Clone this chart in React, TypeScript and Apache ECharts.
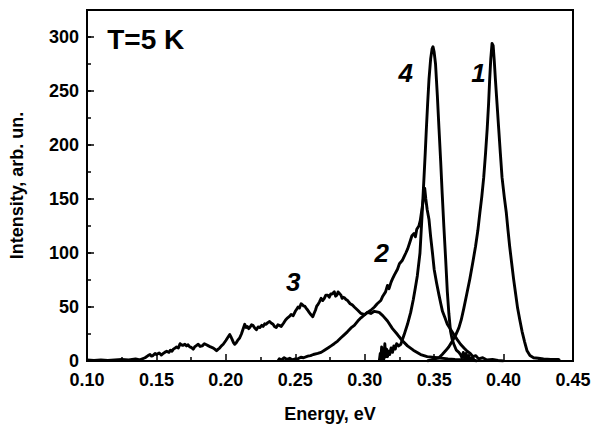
import React, { useEffect, useRef } from "react";
import * as echarts from "echarts";

// Energy (eV), intensity (arb. un.) pairs
const curve1: number[][] = [
  [0.345, 0], [0.348, 1], [0.3505, 2], [0.3534, 3], [0.3558, 6], [0.3582, 9.4], [0.3605, 13], [0.3631, 18.5],
  [0.3655, 24], [0.3678, 30.6], [0.3695, 38], [0.3714, 49], [0.3735, 62], [0.3757, 76], [0.3778, 91],
  [0.3798, 106], [0.3815, 121], [0.3829, 137], [0.3843, 152], [0.3857, 170], [0.387, 192], [0.3882, 215],
  [0.3892, 238], [0.39, 261], [0.3908, 280], [0.3917, 294], [0.3925, 292], [0.3933, 278], [0.3941, 261],
  [0.3953, 238], [0.3965, 215], [0.3977, 192], [0.3989, 170], [0.4005, 152], [0.402, 137], [0.4032, 121],
  [0.4044, 106], [0.4058, 91], [0.4072, 76], [0.4087, 62], [0.4101, 49], [0.4117, 38], [0.4133, 27.5],
  [0.4151, 18], [0.4169, 9.4], [0.419, 5], [0.4216, 3], [0.425, 2.5], [0.4288, 2], [0.434, 1.5],
  [0.4395, 1.5], [0.4405, 0.5],
];

const curve2: number[][] = [
  [0.2375, 0], [0.2385, 2], [0.24, 1], [0.242, 3], [0.244, 1.5], [0.246, 2.5], [0.248, 1], [0.25, 2],
  [0.2519, 2], [0.254, 3.5], [0.256, 3], [0.259, 4.5], [0.261, 5], [0.263, 6], [0.2662, 7], [0.2686, 8],
  [0.271, 10], [0.2735, 12], [0.2758, 14], [0.278, 16], [0.2805, 18.5], [0.2829, 21.5], [0.285, 24],
  [0.2875, 27], [0.2901, 30.6], [0.2925, 33], [0.295, 37], [0.2973, 40], [0.3, 43], [0.302, 45],
  [0.3044, 47], [0.307, 50], [0.309, 53], [0.3116, 56], [0.313, 60], [0.315, 64], [0.3164, 70],
  [0.3175, 67], [0.319, 73], [0.32, 76], [0.3215, 80], [0.3236, 85], [0.325, 90], [0.327, 93],
  [0.3296, 100], [0.331, 104], [0.3325, 110], [0.334, 116], [0.3355, 118], [0.3365, 115], [0.3375, 122],
  [0.339, 125], [0.34, 130], [0.3415, 143], [0.3425, 152], [0.3432, 160], [0.344, 150], [0.345, 140],
  [0.3463, 131], [0.3475, 115], [0.3488, 100], [0.35, 85], [0.3518, 72], [0.3535, 61], [0.3548, 53],
  [0.356, 46], [0.3578, 40], [0.3595, 34], [0.362, 29], [0.3642, 24.5], [0.3665, 20], [0.369, 15.5],
  [0.3715, 12], [0.3738, 9], [0.376, 7], [0.378, 4], [0.38, 5], [0.382, 2], [0.385, 3], [0.388, 1],
  [0.392, 1.5], [0.396, 0.5], [0.4, 0],
];

const curve3: number[][] = [
  [0.1, 1], [0.105, 0.5], [0.11, 1], [0.115, 0.5], [0.12, 1], [0.125, 1.5], [0.13, 1], [0.135, 2],
  [0.138, 1], [0.1418, 3], [0.144, 5], [0.1454, 6], [0.1465, 4.5], [0.1475, 5], [0.149, 7], [0.15, 6],
  [0.152, 7.5], [0.1535, 5.5], [0.1545, 6.5], [0.156, 8], [0.1574, 9], [0.159, 8], [0.16, 10],
  [0.1612, 9], [0.1622, 11], [0.1635, 12], [0.1645, 13], [0.1658, 12], [0.167, 16], [0.168, 15],
  [0.169, 14.5], [0.1705, 15.5], [0.1717, 14], [0.1728, 15], [0.174, 13], [0.1752, 12.5], [0.1765, 11],
  [0.1775, 13], [0.1785, 14], [0.1801, 15.5], [0.1815, 13.5], [0.183, 14], [0.1845, 16], [0.186, 15],
  [0.1875, 14], [0.189, 13], [0.191, 12], [0.192, 11], [0.1933, 9.5], [0.1945, 11], [0.1955, 12],
  [0.1968, 14], [0.1981, 15.5], [0.2, 19], [0.2015, 22], [0.2028, 24.5], [0.2038, 22], [0.2045, 20],
  [0.2055, 17], [0.2064, 15.5], [0.2075, 17], [0.2085, 19], [0.21, 21.5], [0.2112, 25], [0.212, 28],
  [0.2136, 34], [0.2146, 31], [0.2155, 32], [0.2165, 30], [0.2172, 31], [0.2185, 33.5], [0.2195, 33],
  [0.2208, 30.5], [0.222, 29], [0.2232, 31.5], [0.2245, 31], [0.2258, 33], [0.2268, 32], [0.228, 34.5],
  [0.229, 34], [0.2302, 35.5], [0.2315, 36.6], [0.2328, 35], [0.234, 34], [0.235, 32], [0.2363, 31],
  [0.2375, 33.5], [0.2385, 33], [0.2399, 32], [0.2415, 35], [0.243, 38], [0.2445, 40], [0.246, 41.5],
  [0.247, 43], [0.2485, 42], [0.25, 46], [0.251, 48], [0.252, 50], [0.253, 49], [0.2542, 53], [0.2552, 52],
  [0.256, 51], [0.257, 50.5], [0.2578, 49], [0.259, 47], [0.26, 45], [0.2612, 43], [0.2626, 41],
  [0.2635, 44], [0.2645, 47], [0.2655, 51], [0.2662, 52], [0.2675, 55], [0.2686, 58], [0.2698, 56],
  [0.2709, 58], [0.272, 61], [0.2734, 61], [0.2745, 59], [0.2755, 62], [0.2765, 62], [0.2781, 64],
  [0.279, 60], [0.28, 61], [0.2808, 64], [0.2815, 63], [0.2829, 61], [0.2837, 58], [0.2845, 59],
  [0.2855, 58.5], [0.2865, 57], [0.2877, 56], [0.2895, 53], [0.291, 52], [0.2925, 50], [0.295, 47],
  [0.2973, 44], [0.3, 43], [0.302, 45], [0.3044, 44], [0.307, 46], [0.3104, 45], [0.313, 42],
  [0.3164, 37], [0.32, 30], [0.3236, 24.5], [0.327, 19], [0.3308, 14], [0.335, 10], [0.3403, 6],
  [0.345, 4], [0.3523, 3], [0.36, 2], [0.365, 1.5], [0.375, 1], [0.38, 0.5],
];

const curve4: number[][] = [
  [0.3105, 0], [0.3112, 7], [0.3116, 1], [0.3122, 13], [0.3127, 2], [0.3133, 10], [0.3138, 2], [0.3145, 16],
  [0.315, 4], [0.3158, 11], [0.3164, 4], [0.3172, 9], [0.318, 6], [0.319, 12], [0.32, 8], [0.321, 14],
  [0.322, 11], [0.323, 16], [0.3245, 14], [0.326, 15.5], [0.3283, 24], [0.3308, 34], [0.3331, 45],
  [0.335, 57], [0.3365, 68], [0.3379, 79], [0.3398, 100], [0.3413, 135], [0.3427, 170], [0.3436, 193],
  [0.3444, 215], [0.3453, 238], [0.3463, 261], [0.3475, 280], [0.3485, 289], [0.3492, 291], [0.35, 286],
  [0.351, 275], [0.3523, 246], [0.3535, 215], [0.3547, 185], [0.3558, 155], [0.357, 124.5], [0.3583, 94],
  [0.3595, 64], [0.3606, 44], [0.3618, 27.5], [0.363, 20], [0.3642, 15.5], [0.366, 10], [0.3678, 8],
  [0.369, 6], [0.37, 3], [0.371, 8], [0.372, 2], [0.373, 7], [0.374, 1], [0.375, 5], [0.376, 1],
  [0.3775, 3], [0.379, 0.5], [0.381, 0],
];

// Curve labels: [energy, intensity, text]
const curveLabels: (number | string)[][] = [
  [0.3819, 267, "1"],
  [0.3123, 100, "2"],
  [0.2485, 73, "3"],
  [0.3296, 267, "4"],
];
const titleLabel: (number | string)[][] = [[0.1423, 298, "T=5 K"]];

const xTickMin = 0.1;
const xTickMax = 0.45;
const xTickStep = 0.05;
const yMin = 0;
const yMax = 325;
const yStep = 50;

const FONT = "Liberation Sans, Arial, sans-serif";

export default function App() {
  const ref = useRef<HTMLDivElement>(null);
  useEffect(() => {
    document.body.style.margin = "0";
    if (!ref.current) return;
    const chart = echarts.init(ref.current, undefined, { renderer: "svg" });
    const black = "#000";
    const lineSeries = (name: string, data: number[][]) => ({
      name,
      type: "line",
      data,
      showSymbol: false,
      symbol: "none",
      smooth: false,
      xAxisIndex: 0,
      yAxisIndex: 0,
      lineStyle: { color: black, width: 2.9, join: "round" },
      z: 3,
    });
    const labelSeries = (data: (number | string)[][], size: number, italic: boolean) => ({
      type: "scatter",
      data,
      symbol: "circle",
      symbolSize: 1,
      itemStyle: { color: "rgba(0,0,0,0)" },
      xAxisIndex: 0,
      yAxisIndex: 0,
      silent: true,
      label: {
        show: true,
        position: "inside",
        formatter: (p: any) => p.value[2],
        color: black,
        opacity: 1,
        textBorderWidth: 0,
        fontSize: size,
        fontWeight: "bold",
        fontStyle: italic ? "italic" : "normal",
        fontFamily: FONT,
      },
      z: 5,
    });
    chart.setOption({
      animation: false,
      backgroundColor: "#fff",
      grid: {
        left: 85,
        right: 29,
        top: 10,
        bottom: 61,
        show: true,
        borderColor: black,
        borderWidth: 2,
        backgroundColor: "transparent",
      },
      xAxis: {
        type: "value",
        min: xTickMin,
        max: xTickMax,
        interval: xTickStep,
        axisLine: { lineStyle: { color: black, width: 2 } },
        axisTick: { inside: true, length: 7, lineStyle: { color: black, width: 1.5 } },
        minorTick: { show: true, splitNumber: 2, length: 4, lineStyle: { color: black, width: 1.5 } },
        splitLine: { show: false },
        minorSplitLine: { show: false },
        axisLabel: {
          formatter: (v: number) => v.toFixed(2),
          color: black,
          fontWeight: "bold",
          fontSize: 18,
          fontFamily: FONT,
          margin: 10,
        },
        name: "Energy, eV",
        nameLocation: "middle",
        nameGap: 44,
        nameTextStyle: { color: black, fontWeight: "bold", fontSize: 18, fontFamily: FONT },
      },
      yAxis: [
        {
          type: "value",
          min: yMin,
          max: yMax,
          interval: yStep,
          axisLine: { show: true, lineStyle: { color: black, width: 2 } },
          axisTick: { inside: true, length: 7, lineStyle: { color: black, width: 1.5 } },
          splitLine: { show: false },
          axisLabel: {
            showMaxLabel: false,
            formatter: (v: number) => (v % yStep === 0 ? String(v) : ""),
            color: black,
            fontWeight: "bold",
            fontSize: 18,
            fontFamily: FONT,
            margin: 8,
          },
          name: "Intensity, arb. un.",
          nameLocation: "middle",
          nameGap: 61,
          nameTextStyle: { color: black, fontWeight: "bold", fontSize: 18, fontFamily: FONT },
        },
        {
          type: "value",
          min: yMin,
          max: yMax,
          interval: yStep / 2,
          position: "left",
          axisLine: { show: false },
          axisTick: { show: true, inside: true, length: 4, lineStyle: { color: black, width: 1.5 } },
          axisLabel: { show: false },
          splitLine: { show: false },
        },
      ],
      series: [
        lineSeries("3", curve3),
        lineSeries("2", curve2),
        lineSeries("4", curve4),
        lineSeries("1", curve1),
        labelSeries(curveLabels, 26, true),
        labelSeries(titleLabel, 28, false),
      ],
    });
    return () => chart.dispose();
  }, []);
  return <div ref={ref} style={{ width: 602, height: 428 }} />;
}
